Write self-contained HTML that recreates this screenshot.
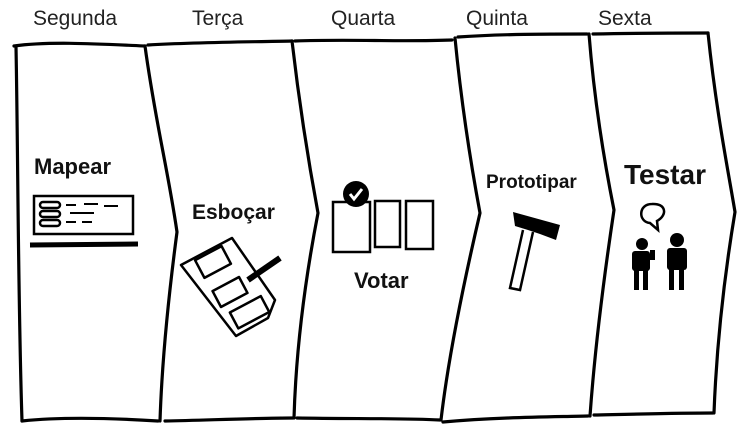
<!DOCTYPE html>
<html><head><meta charset="utf-8"><style>
html,body{margin:0;padding:0;background:#fff;}
svg{display:block;}
.d{font-family:"Liberation Sans",sans-serif;font-size:21px;fill:#222;}
.b{font-family:"Liberation Sans",sans-serif;font-weight:bold;fill:#111;}
</style></head><body>
<svg width="738" height="435" viewBox="0 0 738 435" xmlns="http://www.w3.org/2000/svg">
<text class="d" x="33" y="25">Segunda</text>
<text class="d" x="192" y="25">Terça</text>
<text class="d" x="331" y="25">Quarta</text>
<text class="d" x="466" y="25">Quinta</text>
<text class="d" x="598" y="25">Sexta</text>
<g fill="none" stroke="#000" stroke-width="3.2" stroke-linejoin="round" stroke-linecap="round">
<path d="M14,46 C50,41 100,44 145,46"/>
<path d="M148,45 C200,42 250,42 292,41"/>
<path d="M295,41 C350,39 400,42 452,40"/>
<path d="M458,37 C500,34 550,34 587,34"/>
<path d="M593,34 C640,33 680,33 708,33"/>
<path d="M22,421 C60,417 110,418 158,421"/>
<path d="M165,421 C210,420 260,418 293,418"/>
<path d="M297,418 C350,419 400,418 440,420"/>
<path d="M443,422 C500,417 550,417 588,416"/>
<path d="M594,415 C640,414 680,413 713,413"/>
<path d="M16,47 C18,150 18,300 22,421"/>
<path d="M145,46 C155,120 168,170 177,232 C168,300 162,360 160,421"/>
<path d="M292,41 C300,110 310,170 318,213 C305,280 296,350 294,418"/>
<path d="M455,38 C462,110 472,170 480,213 C462,290 448,360 441,420"/>
<path d="M589,34 C595,110 606,170 614,210 C602,290 594,360 590,416"/>
<path d="M708,33 C716,110 728,170 735,212 C722,290 716,360 714,413"/>
</g>
<text class="b" x="34" y="174" font-size="22">Mapear</text>
<text class="b" x="192" y="219" font-size="21">Esboçar</text>
<text class="b" x="354" y="288" font-size="22">Votar</text>
<text class="b" x="486" y="188" font-size="19">Prototipar</text>
<text class="b" x="624" y="184" font-size="28">Testar</text>
<g stroke="#000" fill="none" stroke-width="2.5">
<rect x="34" y="196" width="99" height="38"/>
<line x1="30" y1="245" x2="138" y2="244" stroke-width="5"/>
<rect x="40" y="202" width="20" height="6" rx="3"/>
<rect x="40" y="211" width="20" height="6" rx="3"/>
<rect x="40" y="220" width="20" height="6" rx="3"/>
<path d="M66,205 h10 M70,213 h24 M66,222 h10 M82,222 h10 M84,204 h14 M104,206 h14" stroke-width="2"/>
</g>
<g stroke="#000" fill="none" stroke-width="2.5" stroke-linejoin="round">
<path d="M181,265 L232,238 L275,300 L268,318 L236,336 Z"/>
<rect x="198" y="252" width="30" height="20" transform="rotate(-28 213 262)"/>
<rect x="215" y="283" width="30" height="18" transform="rotate(-28 230 292)"/>
<rect x="232" y="303" width="35" height="18" transform="rotate(-28 250 312)"/>
<line x1="248" y1="280" x2="280" y2="258" stroke-width="6"/>
</g>
<g stroke="#000" fill="none" stroke-width="2.5">
<rect x="333" y="202" width="37" height="50"/>
<rect x="375" y="201" width="25" height="46"/>
<rect x="406" y="201" width="27" height="48"/>
</g>
<circle cx="356" cy="194" r="13" fill="#000"/>
<path d="M350,194 l4,5 l8,-10" stroke="#fff" stroke-width="3" fill="none"/>
<path d="M513,212 L560,225 L556,240 L540,234 L528,230 L515,226 Z" fill="#000"/>
<path d="M533,232 L520,290 L510,288 L523,230" fill="none" stroke="#000" stroke-width="2.5"/>
<path d="M652,204 C638,204 638,222 650,223 L658,230 L657,221 C668,215 666,203 652,204 Z" fill="none" stroke="#000" stroke-width="2.5"/>
<g fill="#000">
<circle cx="642" cy="244" r="6"/>
<rect x="632" y="251" width="18" height="20" rx="3"/>
<rect x="634" y="268" width="5" height="22"/><rect x="643" y="268" width="5" height="22"/>
<rect x="650" y="250" width="5" height="10"/>
<circle cx="677" cy="240" r="7"/>
<rect x="667" y="248" width="20" height="22" rx="3"/>
<rect x="669" y="268" width="5" height="22"/><rect x="679" y="268" width="5" height="22"/>
</g>
</svg>
</body></html>
